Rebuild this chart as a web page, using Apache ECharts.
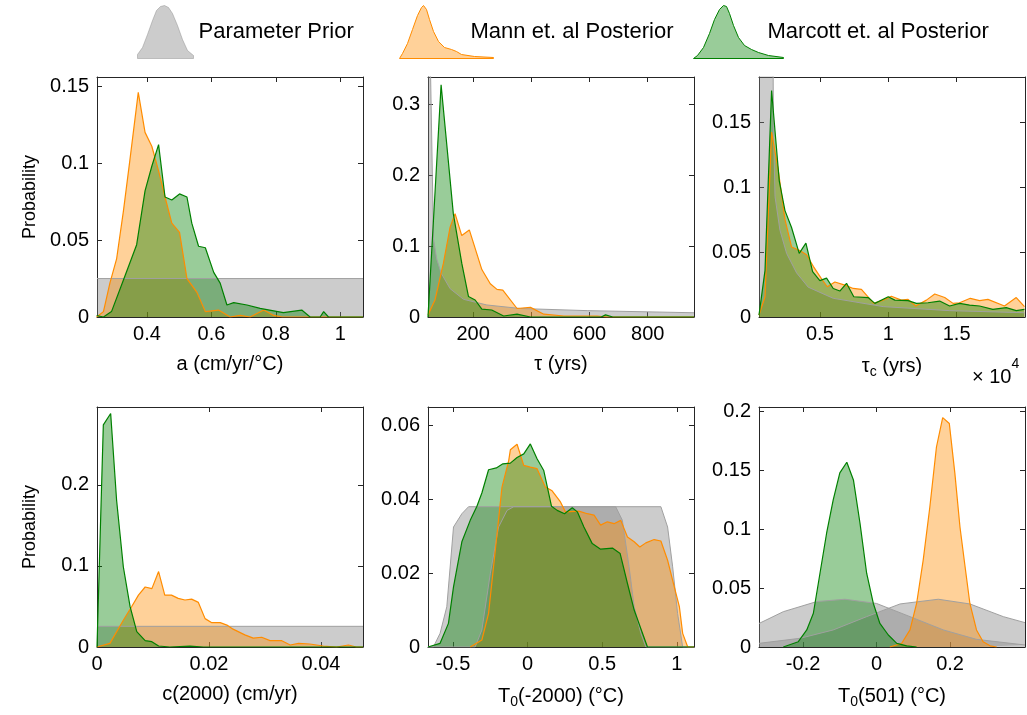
<!DOCTYPE html>
<html>
<head>
<meta charset="utf-8">
<title>Parameter priors and posteriors</title>
<script src="https://cdn.jsdelivr.net/npm/echarts@6/dist/echarts.min.js"></script>
<style>
  html, body { margin: 0; padding: 0; background: #fff; }
  #chart { width: 1027px; height: 715px; }
</style>
</head>
<body>
<div id="chart"></div>
<script>
// ---- histogram outlines: [x, probability] ----
// a (cm/yr/°C)
const aPrior = [[0.245, 0.025], [1.07, 0.025]];
const aMann = [[0.244, 0], [0.265, 0.0035], [0.285, 0.022], [0.306, 0.038], [0.327, 0.069], [0.347, 0.102],
  [0.373, 0.146], [0.394, 0.120], [0.415, 0.111], [0.436, 0.095], [0.456, 0.078], [0.477, 0.061],
  [0.501, 0.055], [0.524, 0.025], [0.555, 0.016], [0.581, 0.0035], [0.622, 0.0045], [0.658, 0],
  [0.689, 0.001], [0.72, 0], [0.762, 0.0045], [0.793, 0.001], [0.82, 0], [1.07, 0]];
const aMarcott = [[0.244, 0.001], [0.265, 0], [0.29, 0.0035], [0.327, 0.024], [0.368, 0.047], [0.394, 0.082],
  [0.415, 0.098], [0.436, 0.112], [0.456, 0.078], [0.477, 0.076], [0.501, 0.080], [0.524, 0.078],
  [0.539, 0.061], [0.560, 0.046], [0.581, 0.045], [0.607, 0.029], [0.627, 0.022], [0.648, 0.0078],
  [0.669, 0.0093], [0.710, 0.0078], [0.751, 0.0056], [0.793, 0.004], [0.823, 0.0028], [0.880, 0.0045],
  [0.906, 0], [0.937, 0], [0.948, 0.0035], [0.963, 0], [1.07, 0]];

// tau (yrs)
const tauPrior = [[45, 0.5], [54, 0.34], [60, 0.2], [64, 0.11], [75, 0.082], [90, 0.062], [121, 0.040],
  [167, 0.025], [247, 0.017], [362, 0.012], [592, 0.009], [959, 0.006]];
const tauMann = [[45, 0.003], [69, 0.024], [98, 0.076], [121, 0.127], [138, 0.146], [161, 0.115], [187, 0.123],
  [230, 0.067], [259, 0.047], [282, 0.039], [302, 0.038], [351, 0.012], [397, 0.0136], [443, 0.004],
  [512, 0.0014], [626, 0.0014], [660, 0], [959, 0]];
const tauMarcott = [[45, 0], [90, 0.328], [132, 0.146], [161, 0.076], [184, 0.029], [207, 0.024], [230, 0.011],
  [264, 0.0099], [305, 0.0014], [351, 0.004], [397, 0], [640, 0], [655, 0.003], [680, 0], [959, 0]];

// tau_c (x 10^4 yrs)
const tcPrior = [[0.055, 0.4], [0.15, 0.4], [0.16, 0.15], [0.172, 0.093], [0.208, 0.067], [0.257, 0.049],
  [0.33, 0.034], [0.415, 0.023], [0.598, 0.0144], [0.963, 0.008], [1.449, 0.0049], [1.996, 0.0033]];
const tcMann = [[0.055, 0.0015], [0.099, 0.0156], [0.147, 0.1426], [0.196, 0.113], [0.245, 0.075], [0.293, 0.054],
  [0.349, 0.0515], [0.403, 0.048], [0.452, 0.039], [0.505, 0.0305], [0.554, 0.0233], [0.610, 0.027],
  [0.683, 0.0246], [0.744, 0.022], [0.804, 0.0213], [0.894, 0.0105], [0.963, 0.013], [1.023, 0.016],
  [1.096, 0.013], [1.145, 0.0136], [1.201, 0.0085], [1.279, 0.013], [1.340, 0.0177], [1.413, 0.015],
  [1.474, 0.0105], [1.522, 0.011], [1.600, 0.0144], [1.668, 0.0126], [1.729, 0.0136], [1.850, 0.0085],
  [1.936, 0.015], [1.996, 0.008]];
const tcMarcott = [[0.055, 0.0015], [0.099, 0.036], [0.147, 0.1746], [0.203, 0.105], [0.245, 0.082], [0.293, 0.069],
  [0.349, 0.049], [0.398, 0.057], [0.447, 0.035], [0.500, 0.028], [0.549, 0.030], [0.598, 0.022],
  [0.646, 0.020], [0.695, 0.026], [0.748, 0.0156], [0.853, 0.015], [0.902, 0.0105], [1.0, 0.0156],
  [1.048, 0.013], [1.145, 0.0126], [1.206, 0.0105], [1.291, 0.011], [1.376, 0.0123], [1.449, 0.0085],
  [1.522, 0.0105], [1.595, 0.0092], [1.668, 0.0085], [1.765, 0.0059], [1.863, 0.0072], [1.936, 0.0049],
  [1.996, 0.0059]];

// c(2000) (cm/yr)
const cPrior = [[0, 0.0255], [0.0475, 0.0255]];
const cMann = [[0, 0], [0.0023, 0.0045], [0.0047, 0.033], [0.0062, 0.050], [0.0074, 0.064], [0.0086, 0.074],
  [0.0098, 0.072], [0.011, 0.093], [0.0121, 0.064], [0.0133, 0.064], [0.0145, 0.060], [0.0157, 0.058],
  [0.0169, 0.059], [0.0181, 0.055], [0.0193, 0.035], [0.0205, 0.030], [0.022, 0.030], [0.0232, 0.027],
  [0.0243, 0.022], [0.0264, 0.015], [0.0279, 0.011], [0.0294, 0.012], [0.0309, 0.0078], [0.033, 0.0078],
  [0.0345, 0.0025], [0.036, 0.0045], [0.038, 0.0037], [0.0404, 0.0012], [0.0428, 0], [0.0449, 0.0025],
  [0.0463, 0], [0.0475, 0]];
const cMarcott = [[0, 0], [0.00113, 0.274], [0.00244, 0.288], [0.0035, 0.181], [0.0047, 0.099], [0.0059, 0.050],
  [0.0071, 0.019], [0.0086, 0.0078], [0.0098, 0.0066], [0.011, 0.0012], [0.013, 0], [0.0166, 0.001],
  [0.019, 0], [0.0475, 0]];

// T0(-2000) (°C)
const t2000PriorMarcott = [[-0.668, 0], [-0.632, 0], [-0.587, 0.0037], [-0.542, 0.0109], [-0.497, 0.0325],
  [-0.441, 0.0361], [-0.396, 0.038], [0.59, 0.038], [0.635, 0.0343], [0.68, 0.0217], [0.714, 0.0109],
  [0.759, 0.0037], [0.792, 0], [1.115, 0]];
const t2000PriorMann = [[-0.668, 0], [-0.352, 0], [-0.307, 0.0046], [-0.25, 0.02], [-0.195, 0.0325],
  [-0.138, 0.037], [-0.093, 0.038], [0.893, 0.038], [0.938, 0.0325], [0.972, 0.0217], [1.005, 0.0091],
  [1.039, 0], [1.115, 0]];
const t2000Mann = [[-0.385, 0], [-0.307, 0.0019], [-0.262, 0.0091], [-0.217, 0.0262], [-0.172, 0.0433],
  [-0.127, 0.0505], [-0.116, 0.0534], [-0.071, 0.0549], [-0.026, 0.0492], [0.018, 0.0487], [0.063, 0.0483],
  [0.119, 0.0433], [0.164, 0.0423], [0.22, 0.0393], [0.253, 0.0366], [0.343, 0.0368], [0.4, 0.0361],
  [0.445, 0.0357], [0.489, 0.033], [0.534, 0.0339], [0.579, 0.0334], [0.624, 0.0343], [0.669, 0.0298],
  [0.714, 0.0285], [0.752, 0.0271], [0.792, 0.0282], [0.848, 0.0291], [0.893, 0.0287], [0.938, 0.0235],
  [0.983, 0.0163], [1.017, 0.0109], [1.039, 0.0037], [1.073, 0], [1.115, 0]];
const t2000Marcott = [[-0.668, 0], [-0.587, 0.001], [-0.531, 0.0064], [-0.497, 0.0163], [-0.441, 0.0285],
  [-0.385, 0.0343], [-0.34, 0.0381], [-0.307, 0.0417], [-0.262, 0.048], [-0.21, 0.0485], [-0.166, 0.0496],
  [-0.116, 0.0498], [-0.071, 0.0513], [-0.026, 0.0523], [0.018, 0.055], [0.063, 0.051], [0.108, 0.0478],
  [0.16, 0.0381], [0.198, 0.037], [0.247, 0.0361], [0.299, 0.0377], [0.333, 0.0366], [0.377, 0.0325],
  [0.433, 0.028], [0.489, 0.0265], [0.568, 0.0268], [0.62, 0.0253], [0.669, 0.0172], [0.714, 0.01],
  [0.754, 0.0055], [0.803, 0], [1.115, 0]];

// T0(501) (°C)
const t501PriorMarcott = [[-0.32, 0.020], [-0.254, 0.030], [-0.163, 0.0386], [-0.086, 0.0406], [0.0, 0.037],
  [0.091, 0.0258], [0.182, 0.0145], [0.272, 0.0065], [0.404, 0.0017]];
const t501PriorMann = [[-0.32, 0.0031], [-0.208, 0.0074], [-0.118, 0.0145], [-0.027, 0.0258], [0.064, 0.0366],
  [0.168, 0.0406], [0.254, 0.0366], [0.345, 0.0258], [0.404, 0.0207]];
const t501Mann = [[0.036, 0], [0.068, 0.003], [0.091, 0.0145], [0.109, 0.037], [0.127, 0.074], [0.145, 0.119],
  [0.163, 0.17], [0.18, 0.195], [0.198, 0.19], [0.213, 0.148], [0.227, 0.102], [0.241, 0.068],
  [0.254, 0.037], [0.272, 0.0145], [0.29, 0.0045], [0.309, 0.001], [0.327, 0]];
const t501Marcott = [[-0.254, 0], [-0.213, 0.0045], [-0.19, 0.0145], [-0.172, 0.0287], [-0.154, 0.0627],
  [-0.136, 0.0967], [-0.118, 0.125], [-0.1, 0.148], [-0.081, 0.157], [-0.063, 0.142], [-0.045, 0.105],
  [-0.027, 0.0627], [-0.009, 0.0372], [0.009, 0.020], [0.032, 0.0102], [0.055, 0.0031], [0.082, 0.001],
  [0.109, 0]];

// ---- tick labels ----
const aTicks = [0.4, 0.6, 0.8, 1];
const tauTicks = [200, 400, 600, 800];
const tcTicks = [0.5, 1, 1.5];
const cTicks = [0, 0.02, 0.04];
const t2000Ticks = [-0.5, 0, 0.5, 1];
const t501Ticks = [-0.2, 0, 0.2];
const aProbTicks = [0, 0.05, 0.1, 0.15];
const tauProbTicks = [0, 0.1, 0.2, 0.3];
const tcProbTicks = [0, 0.05, 0.1, 0.15];
const cProbTicks = [0, 0.1, 0.2];
const t2000ProbTicks = [0, 0.02, 0.04, 0.06];
const t501ProbTicks = [0, 0.05, 0.1, 0.15, 0.2];

const PRIOR = 'Parameter Prior';
const MANN = 'Mann et. al Posterior';
const MARCOTT = 'Marcott et. al Posterior';

const FONT = '"Liberation Sans", Arial, sans-serif';
const FRAME = '#262626';

const panels = [
  { left: 97, top: 77, x: [0.245, 1.07], y: 0.156, xTicks: aTicks, yTicks: aProbTicks,
    xName: 'a (cm/yr/°C)', yName: 'Probability', priors: [aPrior], mann: aMann, marcott: aMarcott },
  { left: 428, top: 77, x: [45, 959], y: 0.339, xTicks: tauTicks, yTicks: tauProbTicks,
    xName: 'τ (yrs)', priors: [tauPrior], mann: tauMann, marcott: tauMarcott },
  { left: 759, top: 77, x: [0.055, 2.0], y: 0.185, xTicks: tcTicks, yTicks: tcProbTicks,
    xName: '{t|τ}{s|c}{t| (yrs)}', priors: [tcPrior], mann: tcMann, marcott: tcMarcott },
  { left: 97, top: 407, x: [0, 0.0475], y: 0.296, xTicks: cTicks, yTicks: cProbTicks,
    xName: 'c(2000) (cm/yr)', yName: 'Probability', priors: [cPrior], mann: cMann, marcott: cMarcott },
  { left: 428, top: 407, x: [-0.668, 1.115], y: 0.065, xTicks: t2000Ticks, yTicks: t2000ProbTicks,
    xName: '{t|T}{s|0}{t|(-2000) (°C)}', priors: [t2000PriorMarcott, t2000PriorMann], mann: t2000Mann, marcott: t2000Marcott },
  { left: 759, top: 407, x: [-0.32, 0.404], y: 0.204, xTicks: t501Ticks, yTicks: t501ProbTicks,
    xName: '{t|T}{s|0}{t|(501) (°C)}', priors: [t501PriorMarcott, t501PriorMann], mann: t501Mann, marcott: t501Marcott }
];

const grid = [];
const xAxis = [];
const yAxis = [];
const series = [];

const richName = {
  t: { fontSize: 20, fontFamily: FONT, color: '#000', lineHeight: 25 },
  s: { fontSize: 14, fontFamily: FONT, color: '#000', lineHeight: 14, verticalAlign: 'bottom' }
};

function areaSeries(name, data, idx, line, fill, width) {
  return {
    name: name,
    type: 'line',
    xAxisIndex: idx,
    yAxisIndex: idx,
    data: data,
    symbol: 'none',
    smooth: false,
    lineStyle: { color: line, width: width },
    areaStyle: { color: fill, opacity: 1 },
    itemStyle: { color: line }
  };
}

panels.forEach((p, i) => {
  grid.push({ left: p.left, top: p.top, width: 266, height: 240 });
  const bx = 2 * i;
  const common = { gridIndex: i, type: 'value', min: p.x[0], max: p.x[1], splitLine: { show: false },
    axisLine: { show: true, onZero: false, lineStyle: { color: FRAME, width: 1 } } };
  xAxis.push(Object.assign({}, common, {
    position: 'bottom',
    name: p.xName, nameLocation: 'middle', nameGap: 37,
    nameTextStyle: { fontSize: 20, fontFamily: FONT, color: '#000', rich: richName },
    axisTick: { inside: true, length: 5, customValues: p.xTicks, lineStyle: { color: FRAME } },
    axisLabel: { customValues: p.xTicks, fontSize: 20, fontFamily: FONT, color: '#000', margin: 7 }
  }));
  xAxis.push(Object.assign({}, common, {
    position: 'top',
    axisTick: { inside: true, length: 5, customValues: p.xTicks, lineStyle: { color: FRAME } },
    axisLabel: { show: false }
  }));
  const ycommon = { gridIndex: i, type: 'value', min: 0, max: p.y, splitLine: { show: false },
    axisLine: { show: true, onZero: false, lineStyle: { color: FRAME, width: 1 } } };
  yAxis.push(Object.assign({}, ycommon, {
    position: 'left',
    name: p.yName || '', nameLocation: 'middle', nameGap: 58,
    nameTextStyle: { fontSize: 18, fontFamily: FONT, color: '#000' },
    axisTick: { inside: true, length: 5, customValues: p.yTicks, lineStyle: { color: FRAME } },
    axisLabel: { customValues: p.yTicks, fontSize: 20, fontFamily: FONT, color: '#000', margin: 8 }
  }));
  yAxis.push(Object.assign({}, ycommon, {
    position: 'right',
    axisTick: { inside: true, length: 5, customValues: p.yTicks, lineStyle: { color: FRAME } },
    axisLabel: { show: false }
  }));
  p.priors.forEach(d => series.push(areaSeries(PRIOR, d, bx, '#a0a0a0', 'rgba(128,128,128,0.4)', 1)));
  series.push(areaSeries(MANN, p.mann, bx, '#ff8c00', 'rgba(255,140,0,0.4)', 1.2));
  series.push(areaSeries(MARCOTT, p.marcott, bx, '#008000', 'rgba(0,128,0,0.4)', 1.2));
});

// legend glyphs: small bell-shaped outlines, the posteriors with a tail running under their text
const priorIcon = 'path://M0 53L0 49L5 42L10 29L15 15L19 5L23 1L27 0L31 2L35 8L40 20L45 34L50 45L56 50L56 53Z';
const mannIcon = 'path://M0 53L3 48L8 38L13 24L18 10L22 2L24 0L27 4L30 14L34 26L39 36L45 42L52 44L57 46L62 49L75 51L94 52L94 53Z';
const marcottIcon = 'path://M0 53L4 50L10 42L16 28L21 14L26 4L30 0L33 1L36 8L40 20L45 32L51 40L58 44L65 47L75 50L90 52L90 53Z';

function legendItem(left, width, shift, name, icon, fill, stroke) {
  return {
    left: left, top: 5, padding: 0, itemWidth: width, itemHeight: 53,
    selectedMode: false,
    textStyle: { fontSize: 22, fontFamily: FONT, color: '#000', padding: [0, 0, 0, shift] },
    data: [{ name: name, icon: icon, itemStyle: { color: fill, borderColor: stroke, borderWidth: 1 } }]
  };
}

const option = {
  animation: false,
  backgroundColor: '#fff',
  legend: [
    legendItem(137, 56, 0, PRIOR, priorIcon, 'rgba(128,128,128,0.4)', 'rgba(128,128,128,0.4)'),
    legendItem(399, 94, -28, MANN, mannIcon, 'rgba(255,140,0,0.4)', '#ff8c00'),
    legendItem(693, 90, -21, MARCOTT, marcottIcon, 'rgba(0,128,0,0.4)', '#008000')
  ],
  grid: grid,
  xAxis: xAxis,
  yAxis: yAxis,
  series: series,
  graphic: [{
    type: 'text', left: 972, top: 357,
    style: {
      text: '{m|× 10}{p|4}',
      rich: {
        m: { fontSize: 20, fontFamily: FONT, fill: '#000', lineHeight: 30, verticalAlign: 'bottom' },
        p: { fontSize: 14, fontFamily: FONT, fill: '#000', lineHeight: 16, verticalAlign: 'top' }
      }
    }
  }]
};

const chart = echarts.init(document.getElementById('chart'));
chart.setOption(option);
</script>
</body>
</html>
